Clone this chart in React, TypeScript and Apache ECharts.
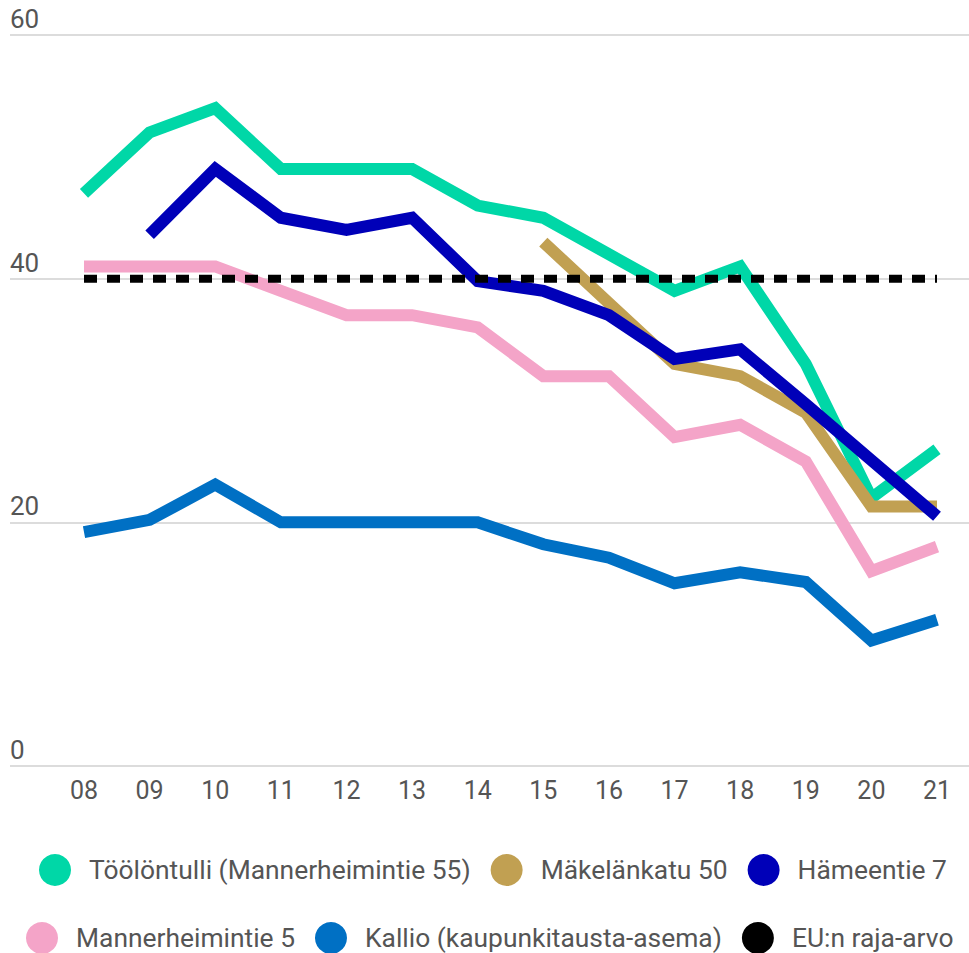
import React, { useEffect, useRef } from "react";
import * as echarts from "echarts";

const years = ["08", "09", "10", "11", "12", "13", "14", "15", "16", "17", "18", "19", "20", "21"];
const yTicks = [0, 20, 40, 60];

const toolontulli = [47, 52, 54, 49, 49, 49, 46, 45, 42, 39, 41, 33, 22, 26];
const makelankatu = [null, null, null, null, null, null, null, 43, 38, 33, 32, 29, 21.3, 21.3];
const hameentie = [null, 43.6, 49, 45, 44, 45, 39.8, 39, 37, 33.4, 34.2, 29.7, 25.1, 20.5];
const mannerheimintie5 = [41, 41, 41, 39, 37, 37, 36, 32, 32, 27, 28, 25, 16, 18];
const kallio = [19.2, 20.2, 23.1, 20, 20, 20, 20, 18.2, 17.1, 15, 15.9, 15.1, 10.3, 12];
const euLimit = [40, 40, 40, 40, 40, 40, 40, 40, 40, 40, 40, 40, 40, 40];

const names = [
  "Töölöntulli (Mannerheimintie 55)",
  "Mäkelänkatu 50",
  "Hämeentie 7",
  "Mannerheimintie 5",
  "Kallio (kaupunkitausta-asema)",
  "EU:n raja-arvo",
];
const colors = ["#00d7a7", "#c1a052", "#0000b8", "#f4a4c8", "#0070c4", "#000000"];

export default function App() {
  const ref = useRef<HTMLDivElement>(null);
  useEffect(() => {
    document.body.style.margin = "0";
    if (!ref.current) return;
    const chart = echarts.init(ref.current, null, { renderer: "svg" });
    const font = "Roboto";
    const textColor = "#555555";
    const lineSeries = (i: number, data: (number | null)[]) => ({
      name: names[i],
      type: "line",
      xAxisIndex: 1,
      yAxisIndex: 1,
      data,
      symbol: "none",
      connectNulls: false,
      itemStyle: { color: colors[i] },
      lineStyle: { color: colors[i], width: 12, join: "miter", cap: "butt", miterLimit: 10 },
      z: 2 + i,
    });
    const legendText = {
      color: textColor,
      fontSize: 26.4,
      lineHeight: 26,
      fontFamily: font,
      padding: [0, 0, 0, 13],
    };
    chart.setOption({
      animation: false,
      grid: [
        { left: 10, right: 0, top: 35, bottom: 187 },
        { left: 84, right: 32, top: 35, bottom: 187 },
      ],
      xAxis: [
        { gridIndex: 0, type: "category", data: years, show: false },
        {
          gridIndex: 1,
          type: "category",
          data: years,
          boundaryGap: false,
          axisLine: { show: false },
          axisTick: { show: false },
          axisLabel: { color: textColor, fontSize: 25, fontFamily: font, margin: 12 },
        },
      ],
      yAxis: [
        {
          gridIndex: 0,
          type: "value",
          min: yTicks[0],
          max: yTicks[yTicks.length - 1],
          interval: yTicks[1] - yTicks[0],
          axisLine: { show: false },
          axisTick: { show: false },
          splitLine: { lineStyle: { color: "#dcdcdc", width: 2 } },
          axisLabel: {
            inside: true,
            verticalAlign: "bottom",
            margin: 0,
            color: textColor,
            fontSize: 26,
            fontFamily: font,
            padding: [0, 0, 3, 0],
          },
        },
        {
          gridIndex: 1,
          type: "value",
          min: yTicks[0],
          max: yTicks[yTicks.length - 1],
          show: false,
        },
      ],
      legend: [
        {
          data: names.slice(0, 3),
          left: 34,
          top: 849,
          icon: "circle",
          itemWidth: 32,
          itemHeight: 32,
          itemGap: 20,
          textStyle: legendText,
        },
        {
          data: names.slice(3),
          left: 21,
          top: 917,
          icon: "circle",
          itemWidth: 32,
          itemHeight: 32,
          itemGap: 20,
          textStyle: legendText,
        },
      ],
      series: [
        lineSeries(0, toolontulli),
        lineSeries(1, makelankatu),
        lineSeries(2, hameentie),
        lineSeries(3, mannerheimintie5),
        lineSeries(4, kallio),
        {
          name: names[5],
          type: "line",
          xAxisIndex: 1,
          yAxisIndex: 1,
          data: euLimit,
          symbol: "none",
          itemStyle: { color: colors[5] },
          lineStyle: { color: colors[5], width: 8, type: [13, 10], cap: "butt" },
          z: 10,
        },
      ],
    });
    return () => chart.dispose();
  }, []);
  return <div ref={ref} style={{ width: 969, height: 953 }} />;
}
